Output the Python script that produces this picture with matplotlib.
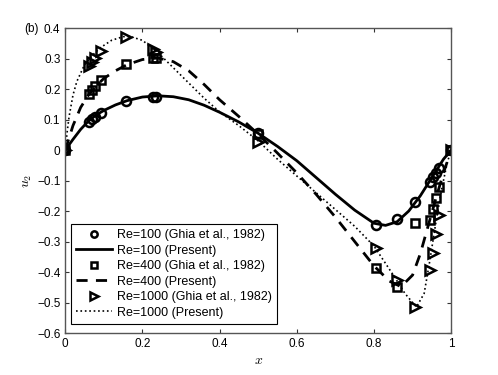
import matplotlib
matplotlib.use("Agg")
import matplotlib.pyplot as plt

plt.rcParams['font.family'] = ['Liberation Sans', 'DejaVu Sans']
plt.rcParams['mathtext.fontset'] = 'cm'

# Ghia et al. (1982) reference points
ghia_x = [1.0000, 0.9688, 0.9609, 0.9531, 0.9453, 0.9063, 0.8594, 0.8047,
          0.5000, 0.2344, 0.2266, 0.1563, 0.0938, 0.0781, 0.0703, 0.0625, 0.0000]
ghia_re100 = [0.0, -0.05906, -0.07391, -0.08864, -0.10313, -0.16914, -0.22445, -0.24533,
              0.05454, 0.17527, 0.17507, 0.16077, 0.12317, 0.10890, 0.10091, 0.09233, 0.0]
ghia_re400 = [0.0, -0.12146, -0.15663, -0.19254, -0.22847, -0.23827, -0.44993, -0.38598,
              0.05186, 0.30174, 0.30203, 0.28124, 0.22965, 0.20920, 0.19713, 0.18360, 0.0]
ghia_re1000 = [0.0, -0.21388, -0.27669, -0.33714, -0.39188, -0.51550, -0.42665, -0.31966,
               0.02526, 0.32235, 0.33075, 0.37095, 0.32627, 0.30353, 0.29012, 0.27485, 0.0]

# Present results
p100_x = [0, 0.02, 0.04, 0.06, 0.08, 0.10, 0.13, 0.16, 0.20, 0.24, 0.28, 0.32, 0.36, 0.40,
          0.45, 0.50, 0.55, 0.60, 0.65, 0.70, 0.75, 0.80, 0.83, 0.86, 0.89, 0.92, 0.95, 0.98, 1.0]
p100_y = [0, 0.035, 0.068, 0.095, 0.115, 0.13, 0.148, 0.162, 0.174, 0.178, 0.175, 0.165, 0.147,
          0.124, 0.092, 0.055, 0.012, -0.035, -0.09, -0.145, -0.197, -0.24, -0.247, -0.235,
          -0.2, -0.15, -0.09, -0.03, 0]

p400_x = [0, 0.01, 0.02, 0.04, 0.06, 0.08, 0.10, 0.13, 0.16, 0.20, 0.24, 0.28, 0.32, 0.36,
          0.40, 0.45, 0.50, 0.55, 0.60, 0.65, 0.70, 0.75, 0.80, 0.84, 0.87, 0.90, 0.92, 0.94,
          0.96, 0.98, 1.0]
p400_y = [0, 0.04, 0.08, 0.14, 0.18, 0.21, 0.235, 0.26, 0.28, 0.297, 0.302, 0.29, 0.26, 0.215,
          0.165, 0.11, 0.052, -0.01, -0.075, -0.145, -0.22, -0.30, -0.38, -0.43, -0.448, -0.41,
          -0.34, -0.25, -0.16, -0.075, 0]

p1000_x = [0, 0.005, 0.01, 0.02, 0.03, 0.05, 0.07, 0.09, 0.12, 0.15, 0.17, 0.20, 0.24, 0.28,
           0.32, 0.36, 0.40, 0.45, 0.50, 0.55, 0.60, 0.65, 0.70, 0.75, 0.80, 0.85, 0.88, 0.91,
           0.93, 0.945, 0.96, 0.975, 0.99, 1.0]
p1000_y = [0, 0.06, 0.11, 0.18, 0.225, 0.28, 0.31, 0.335, 0.36, 0.372, 0.372, 0.36, 0.32, 0.27,
           0.22, 0.17, 0.125, 0.08, 0.03, -0.03, -0.085, -0.14, -0.195, -0.25, -0.315, -0.41,
           -0.47, -0.515, -0.47, -0.36, -0.24, -0.13, -0.04, 0]

fig = plt.figure(figsize=(4.98, 3.75), dpi=100)
ax = fig.add_axes([0.131, 0.112, 0.775, 0.813])

mk = dict(linestyle='none', markerfacecolor='none', markeredgecolor='black',
          markeredgewidth=1.8)
ax.plot(ghia_x, ghia_re100, marker='o', markersize=6.5, label='Re=100 (Ghia et al., 1982)', **mk)
ax.plot(p100_x, p100_y, 'k-', lw=2.0, label='Re=100 (Present)')
ax.plot(ghia_x, ghia_re400, marker='s', markersize=6, label='Re=400 (Ghia et al., 1982)', **mk)
ax.plot(p400_x, p400_y, 'k--', lw=2.0, dashes=(4, 3), label='Re=400 (Present)')
ax.plot(ghia_x, ghia_re1000, marker='>', markersize=7.5, label='Re=1000 (Ghia et al., 1982)', **mk)
ax.plot(p1000_x, p1000_y, 'k:', lw=1.2, label='Re=1000 (Present)')

ax.set_xlim(0, 1)
ax.set_ylim(-0.6, 0.4)
ax.set_xticks([0, 0.2, 0.4, 0.6, 0.8, 1])
ax.set_xticklabels(['0', '0.2', '0.4', '0.6', '0.8', '1'])
yt = [-0.6, -0.5, -0.4, -0.3, -0.2, -0.1, 0, 0.1, 0.2, 0.3, 0.4]
ax.set_yticks(yt)
ax.set_yticklabels(['\u22120.6', '\u22120.5', '\u22120.4', '\u22120.3', '\u22120.2', '\u22120.1',
                    '0', '0.1', '0.2', '0.3', '0.4'])
ax.tick_params(direction='in', top=True, right=True, labelsize=8.5, length=3, width=0.8,
               color='#333333')
for s in ax.spines.values():
    s.set_color('#555555')
    s.set_linewidth(1.0)

ax.set_xlabel('$x$', fontsize=10, labelpad=2)
ax.set_ylabel('$u_2$', fontsize=10, labelpad=2)

leg = ax.legend(loc='lower left', bbox_to_anchor=(0.015, 0.03), fontsize=9,
                frameon=True, fancybox=False, framealpha=1, edgecolor='black',
                handlelength=2.9, handletextpad=0.4, labelspacing=0.28, borderpad=0.4,
                borderaxespad=0.0, markerscale=0.7)
leg.get_frame().set_linewidth(0.8)

fig.text(0.048, 0.923, '(b)', fontsize=8.5, va='center', ha='left')

fig.savefig('out.png', dpi=100)
